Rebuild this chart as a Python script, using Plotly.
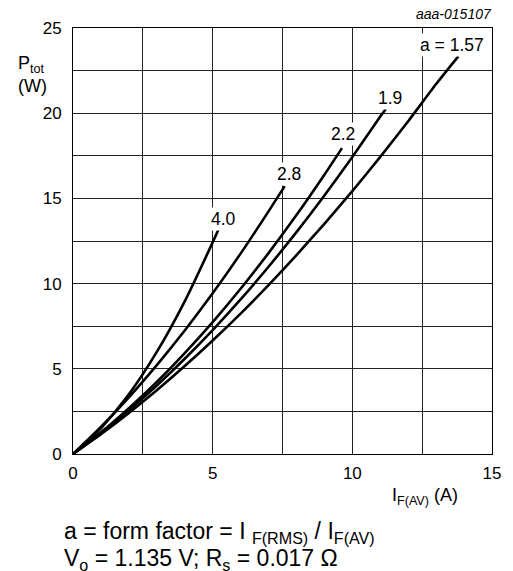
import plotly.graph_objects as go

# ---- data (I_F(AV) in A, P_tot in W) ----
I_a157 = [0, 1, 2, 3, 4, 5, 6, 7, 8, 9, 10, 11, 12, 13, 13.8]
P_a157 = [0, 1.16, 2.41, 3.74, 5.16, 6.66, 8.24, 9.91, 11.67, 13.51, 15.43, 17.44, 19.53, 21.71, 23.35]

I_a19 = [0, 1, 2, 3, 4, 5, 6, 7, 8, 9, 10, 11, 11.2]
P_a19 = [0, 1.22, 2.56, 4.02, 5.59, 7.27, 9.07, 10.99, 13.02, 15.17, 17.43, 19.81, 20.25]

I_a22 = [0, 1, 2, 3, 4, 5, 6, 7, 8, 9, 9.63]
P_a22 = [0, 1.27, 2.69, 4.23, 5.92, 7.74, 9.70, 11.79, 14.02, 16.39, 17.95]

I_a28 = [0, 1, 2, 3, 4, 5, 6, 7, 7.58]
P_a28 = [0, 1.59, 3.33, 5.22, 7.25, 9.43, 11.76, 14.24, 15.72]

I_a40 = [0, 1, 2, 3, 4, 5, 5.2]
P_a40 = [0, 1.51, 3.50, 5.99, 8.96, 12.42, 13.15]

curve_labels = ["a = 1.57", "1.9", "2.2", "2.8", "4.0"]
label_x = [13.57, 11.35, 9.67, 7.73, 5.37]
label_y = [23.98, 20.89, 18.8, 16.43, 13.81]

x_tickvals = [0, 2.5, 5, 7.5, 10, 12.5, 15]
x_ticktext = ["0", "", "5", "", "10", "", "15"]
y_tickvals = [0, 2.5, 5, 7.5, 10, 12.5, 15, 17.5, 20, 22.5, 25]
y_ticktext = ["0", "", "5", "", "10", "", "15", "", "20", "", "25"]

FONT = "Liberation Sans, Arial, sans-serif"

fig = go.Figure()
for xs, ys in [(I_a157, P_a157), (I_a19, P_a19), (I_a22, P_a22),
               (I_a28, P_a28), (I_a40, P_a40)]:
    fig.add_trace(go.Scatter(x=xs, y=ys, mode="lines",
                             line=dict(color="black", width=2.6, shape="spline", smoothing=0.6),
                             showlegend=False, hoverinfo="skip"))

for t, x, y in zip(curve_labels, label_x, label_y):
    fig.add_annotation(x=x, y=y, text=t, showarrow=False,
                       font=dict(family=FONT, size=17.5, color="black"),
                       bgcolor="white", borderpad=1, xanchor="center", yanchor="middle")

fig.add_annotation(xref="paper", yref="paper", x=1.005, y=1.01,
                   xanchor="right", yanchor="bottom", showarrow=False,
                   text="<i>aaa-015107</i>", font=dict(family=FONT, size=14, color="black"))

fig.add_annotation(xref="paper", yref="paper", x=-0.137, y=0.892,
                   xanchor="left", yanchor="middle", showarrow=False, align="left",
                   text="P<sub>tot</sub><br>(W)", font=dict(family=FONT, size=18, color="black"))

fig.add_annotation(xref="paper", yref="paper", x=0.923, y=-0.068,
                   xanchor="right", yanchor="top", showarrow=False,
                   text="I<sub>F(AV)</sub> (A)", font=dict(family=FONT, size=18, color="black"))

fig.add_annotation(xref="paper", yref="paper", x=-0.026, y=-0.145,
                   xanchor="left", yanchor="top", showarrow=False, align="left",
                   text="a = form factor = I <sub>F(RMS)</sub> / I<sub>F(AV)</sub>",
                   font=dict(family=FONT, size=23, color="black"))
fig.add_annotation(xref="paper", yref="paper", x=-0.026, y=-0.209,
                   xanchor="left", yanchor="top", showarrow=False, align="left",
                   text="V<sub>o</sub> = 1.135 V; R<sub>s</sub> = 0.017 Ω",
                   font=dict(family=FONT, size=23, color="black"))

axis_common = dict(showgrid=True, gridcolor="#222222", gridwidth=1,
                   showline=True, linecolor="black", linewidth=1, mirror=True,
                   zeroline=False, ticks="", fixedrange=True,
                   tickfont=dict(family=FONT, size=17, color="black"))

fig.update_xaxes(range=[0, 15], tickmode="array", tickvals=x_tickvals,
                 ticktext=x_ticktext, ticklabelstandoff=4, **axis_common)
fig.update_yaxes(range=[0, 25], tickmode="array", tickvals=y_tickvals,
                 ticktext=y_ticktext, ticklabelstandoff=7, **axis_common)

fig.update_layout(width=513, height=571,
                  margin=dict(l=73, r=13, t=28, b=117),
                  plot_bgcolor="white", paper_bgcolor="white",
                  font=dict(family=FONT, color="black"))

fig.write_html("out.html",
               config={"displayModeBar": False},
               post_script="document.body.style.margin='0px';"
                           "document.body.style.overflow='hidden';"
                           "document.documentElement.style.overflow='hidden';")
